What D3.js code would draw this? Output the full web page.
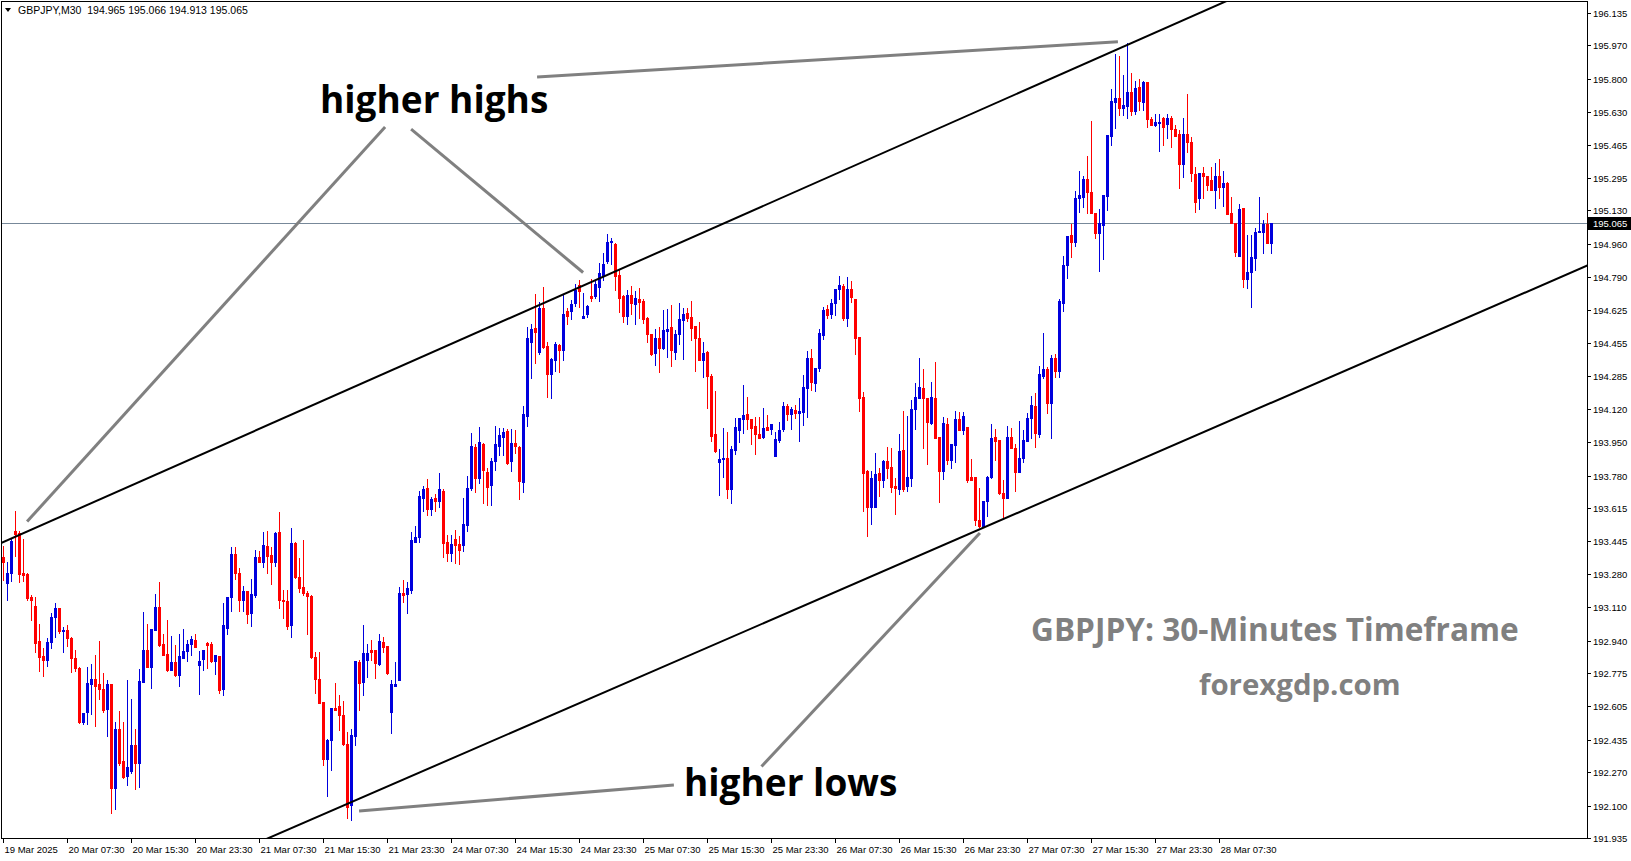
<!DOCTYPE html>
<html><head><meta charset="utf-8">
<script src="https://cdn.jsdelivr.net/npm/d3@7/dist/d3.min.js"></script>
<style>
html,body{margin:0;padding:0;background:#fff;overflow:hidden}
svg{display:block}
</style></head><body>
<svg id="chart" width="1631" height="861"></svg>
<script>
// ---------------- DATA ----------------
const symbolTitle = "GBPJPY,M30";
const lastOHLC = [194.965, 195.066, 194.913, 195.065];
const currentPrice = 195.065;

const opens = [
193.367,193.231,193.282,193.498,193.486,193.282,193.279,193.160,193.117,192.937,
192.860,192.843,192.932,193.058,193.104,192.990,192.993,192.952,192.852,192.801,
192.526,192.577,192.721,192.743,192.718,192.696,192.594,192.718,192.191,192.490,
192.325,192.250,192.276,192.407,192.316,192.730,192.891,192.806,192.993,193.109,
192.922,192.871,192.789,192.830,192.764,192.852,192.886,192.923,192.945,192.818,
192.845,192.928,192.922,192.835,192.862,192.692,193.005,193.160,193.381,193.285,
193.149,193.192,193.081,193.172,193.364,193.341,193.421,193.376,193.341,193.495,
193.149,193.141,193.019,193.438,193.262,193.211,193.183,193.168,192.854,192.746,
192.627,192.335,192.432,192.597,192.607,192.560,192.415,192.101,192.452,192.832,
192.730,192.840,192.891,192.891,192.823,192.934,192.913,192.577,192.709,192.738,
193.180,193.177,193.200,193.444,193.469,193.665,193.715,193.610,193.664,193.651,
193.700,193.442,193.386,193.459,193.430,193.425,193.529,193.715,193.927,193.770,
193.941,193.800,193.732,193.854,193.931,193.978,194.007,193.854,193.944,193.927,
193.749,194.085,194.459,194.530,194.411,194.635,194.441,194.297,194.368,194.445,
194.419,194.618,194.618,194.657,194.750,194.584,194.601,194.694,194.694,194.742,
194.798,194.873,194.968,194.959,194.801,194.694,194.594,194.699,194.655,194.679,
194.669,194.584,194.501,194.406,194.482,194.431,194.518,194.535,194.410,194.500,
194.572,194.609,194.586,194.541,194.482,194.368,194.408,194.287,193.990,193.850,
193.862,193.871,193.712,193.910,194.012,194.068,194.093,194.066,194.032,193.992,
193.978,194.027,194.017,193.881,193.961,194.015,194.136,194.093,194.114,194.100,
194.105,194.227,194.379,194.253,194.330,194.496,194.628,194.603,194.657,194.728,
194.747,194.584,194.730,194.679,194.484,194.179,193.805,193.619,193.622,193.792,
193.758,193.854,193.825,193.727,193.712,193.910,193.727,193.769,194.117,194.177,
194.228,194.177,194.050,194.177,193.975,193.805,194.042,193.859,193.936,194.068,
194.012,194.026,193.771,193.771,193.554,193.524,193.652,193.771,193.975,193.961,
193.690,193.668,193.975,193.922,193.800,193.871,193.956,194.072,194.134,193.992,
194.287,194.323,194.148,194.377,194.310,194.661,194.853,195.005,194.971,195.191,
195.200,195.290,195.226,195.119,195.017,195.056,195.204,195.509,195.683,195.704,
195.653,195.661,195.734,195.636,195.760,195.683,195.782,195.594,195.565,195.574,
195.601,195.568,195.602,195.543,195.518,195.368,195.518,195.477,195.315,195.191,
195.319,195.307,195.284,195.234,195.307,195.251,195.271,195.119,195.068,194.900,
195.141,194.779,194.815,194.889,195.019,195.022,195.061,194.965];

const highs = [
193.421,193.341,193.460,193.600,193.498,193.455,193.285,193.172,193.163,193.024,
192.900,192.951,193.078,193.132,193.107,193.010,193.018,192.959,192.891,192.806,
192.571,192.806,192.823,192.866,192.937,192.775,192.741,192.718,192.526,192.582,
192.526,192.738,192.645,192.492,192.794,193.087,193.027,192.998,193.177,193.240,
192.973,193.044,192.962,192.916,192.971,192.998,192.945,192.964,192.973,192.888,
192.891,192.934,192.932,192.866,192.862,193.132,193.163,193.418,193.418,193.308,
193.217,193.192,193.251,193.401,193.396,193.495,193.498,193.418,193.495,193.593,
193.197,193.197,193.512,193.444,193.362,193.452,193.192,193.170,192.883,192.883,
192.627,192.441,192.597,192.724,192.661,192.633,192.475,192.492,192.835,192.840,
193.018,192.925,192.942,192.891,192.976,192.956,192.913,192.741,192.832,193.214,
193.248,193.240,193.495,193.523,193.700,193.725,193.763,193.670,193.685,193.792,
193.712,193.478,193.478,193.503,193.470,193.666,193.780,193.995,193.939,194.029,
193.946,193.817,193.868,194.032,194.024,194.024,194.017,194.017,194.012,193.932,
194.134,194.538,194.552,194.703,194.665,194.742,194.462,194.377,194.459,194.448,
194.699,194.632,194.674,194.754,194.776,194.708,194.648,194.779,194.776,194.864,
194.912,195.010,194.991,194.963,194.830,194.699,194.725,194.745,194.720,194.736,
194.679,194.589,194.501,194.525,194.538,194.623,194.628,194.648,194.521,194.657,
194.635,194.635,194.669,194.543,194.563,194.462,194.414,194.297,194.211,193.915,
194.024,194.004,193.931,194.075,194.072,194.241,194.180,194.066,194.080,194.080,
194.123,194.088,194.042,194.000,194.054,194.156,194.145,194.131,194.139,194.177,
194.292,194.414,194.424,194.328,194.525,194.637,194.648,194.679,194.730,194.796,
194.754,194.790,194.771,194.679,194.484,194.207,193.808,193.805,193.893,193.817,
193.859,193.924,193.922,193.766,193.992,194.110,194.085,194.165,194.250,194.380,
194.323,194.177,194.258,194.360,193.975,194.080,194.072,193.941,194.110,194.105,
194.105,194.026,193.864,193.771,193.715,193.652,193.780,194.042,194.017,193.961,
193.758,194.032,194.020,193.939,194.058,194.012,194.100,194.185,194.202,194.338,
194.507,194.335,194.394,194.400,194.680,194.898,195.000,195.061,195.229,195.333,
195.307,195.405,195.587,195.119,195.138,195.208,195.514,195.746,195.926,195.915,
195.820,195.980,195.831,195.787,195.797,195.789,195.782,195.607,195.621,195.621,
195.604,195.620,195.612,195.563,195.538,195.600,195.725,195.505,195.353,195.319,
195.350,195.307,195.353,195.370,195.392,195.333,195.276,195.200,195.068,195.163,
195.141,195.005,195.005,195.039,195.200,195.081,195.118,195.066];

const lows = [
193.248,193.149,193.245,193.370,193.238,193.245,193.149,193.044,192.883,192.787,
192.760,192.813,192.900,192.959,192.979,192.883,192.913,192.780,192.786,192.522,
192.517,192.517,192.568,192.505,192.645,192.577,192.456,192.061,192.084,192.305,
192.240,192.203,192.265,192.186,192.194,192.730,192.806,192.699,192.993,192.913,
192.869,192.784,192.789,192.760,192.709,192.852,192.837,192.869,192.908,192.670,
192.792,192.798,192.832,192.772,192.673,192.665,192.971,193.092,193.251,193.092,
193.092,193.030,193.015,193.163,193.341,193.313,193.282,193.228,193.319,193.104,
193.053,192.998,192.956,193.257,193.189,193.172,192.976,192.852,192.675,192.622,
192.305,192.150,192.282,192.585,192.483,192.407,192.036,192.027,192.407,192.585,
192.661,192.755,192.840,192.752,192.818,192.883,192.772,192.469,192.709,192.738,
193.138,193.078,193.180,193.444,193.440,193.600,193.580,193.580,193.600,193.620,
193.364,193.347,193.347,193.336,193.330,193.394,193.500,193.707,193.698,193.740,
193.639,193.630,193.630,193.808,193.885,193.885,193.838,193.803,193.893,193.661,
193.698,194.034,194.278,194.352,194.400,194.430,194.182,194.177,194.314,194.306,
194.368,194.550,194.576,194.643,194.640,194.581,194.589,194.669,194.683,194.669,
194.776,194.861,194.856,194.725,194.611,194.560,194.553,194.601,194.552,194.584,
194.558,194.459,194.394,194.343,194.309,194.424,194.385,194.340,194.374,194.450,
194.374,194.567,194.470,194.312,194.368,194.283,194.126,193.958,193.902,193.681,
193.774,193.664,193.639,193.888,193.953,193.995,194.017,193.941,193.890,193.973,
193.973,194.012,193.992,193.881,193.953,194.008,194.063,194.016,194.075,193.958,
194.038,194.080,194.216,194.211,194.312,194.475,194.584,194.584,194.598,194.679,
194.572,194.543,194.665,194.399,194.110,193.600,193.474,193.532,193.620,193.678,
193.723,193.769,193.698,193.583,193.685,193.702,193.702,193.728,194.017,194.177,
193.919,193.839,194.042,193.970,193.647,193.763,193.837,193.817,193.851,194.012,
193.992,193.749,193.758,193.529,193.520,193.520,193.576,193.766,193.859,193.685,
193.563,193.668,193.919,193.700,193.800,193.851,193.956,193.970,193.927,193.978,
194.275,194.100,193.973,194.280,194.280,194.620,194.784,194.894,194.949,195.123,
195.149,195.115,195.119,194.988,194.823,194.883,195.132,195.463,195.551,195.616,
195.616,195.600,195.616,195.620,195.641,195.641,195.556,195.565,195.561,195.433,
195.463,195.497,195.455,195.508,195.246,195.300,195.425,195.281,195.123,195.138,
195.191,195.234,195.234,195.140,195.195,195.153,195.112,195.065,194.900,194.900,
194.741,194.736,194.640,194.827,195.019,194.915,194.963,194.913];

const closes = [
193.341,193.282,193.447,193.483,193.277,193.275,193.155,193.149,192.928,192.857,
192.843,192.932,193.061,193.104,192.990,192.995,192.952,192.852,192.801,192.526,
192.571,192.724,192.743,192.709,192.696,192.588,192.718,192.191,192.490,192.316,
192.245,192.296,192.407,192.316,192.733,192.891,192.806,192.998,193.112,192.918,
192.869,192.789,192.830,192.764,192.860,192.886,192.922,192.947,192.908,192.835,
192.891,192.920,192.835,192.866,192.687,193.018,193.163,193.381,193.285,193.149,
193.192,193.073,193.175,193.364,193.341,193.426,193.370,193.338,193.486,193.149,
193.139,193.015,193.438,193.262,193.206,193.180,193.168,192.857,192.743,192.622,
192.335,192.432,192.597,192.585,192.560,192.415,192.095,192.458,192.835,192.726,
192.879,192.879,192.883,192.826,192.937,192.908,192.777,192.718,192.718,193.180,
193.173,193.209,193.452,193.469,193.676,193.712,193.610,193.660,193.651,193.712,
193.437,193.386,193.430,193.429,193.400,193.531,193.715,193.932,193.766,193.951,
193.808,193.723,193.854,193.941,193.987,194.000,193.843,193.944,193.932,193.752,
194.094,194.482,194.526,194.513,194.635,194.436,194.297,194.372,194.450,194.419,
194.603,194.594,194.655,194.725,194.720,194.594,194.645,194.686,194.754,194.810,
194.856,194.971,194.974,194.798,194.686,194.594,194.699,194.657,194.686,194.666,
194.577,194.501,194.397,194.482,194.431,194.521,194.526,194.417,194.501,194.577,
194.603,194.584,194.533,194.479,194.368,194.406,194.287,193.983,193.907,193.864,
193.871,193.712,193.915,194.026,194.072,194.088,194.068,194.021,193.990,193.973,
194.021,194.012,194.042,193.966,194.012,194.136,194.093,194.119,194.100,194.111,
194.231,194.379,194.258,194.328,194.506,194.623,194.598,194.660,194.730,194.750,
194.584,194.730,194.691,194.479,194.177,193.792,193.620,193.766,193.788,193.758,
193.854,193.820,193.723,193.715,193.906,193.712,193.771,194.117,194.179,194.230,
194.177,194.055,194.182,193.973,193.805,194.050,193.859,193.941,194.068,194.012,
194.085,193.758,193.758,193.554,193.524,193.652,193.774,193.970,193.956,193.690,
193.668,193.975,193.919,193.800,193.871,193.961,194.072,194.139,193.998,194.297,
194.321,194.148,194.377,194.310,194.669,194.853,195.000,194.971,195.195,195.208,
195.290,195.226,195.119,195.017,195.068,195.208,195.514,195.688,195.704,195.653,
195.666,195.734,195.636,195.751,195.687,195.785,195.594,195.565,195.582,195.582,
195.556,195.602,195.543,195.508,195.368,195.521,195.477,195.319,195.174,195.319,
195.307,195.259,195.234,195.307,195.251,195.271,195.112,195.065,194.920,195.138,
194.779,194.815,194.891,195.022,195.026,195.061,194.966,195.065];

const priceTicks = [196.135,195.970,195.800,195.630,195.465,195.295,195.130,194.960,194.790,194.625,
  194.455,194.285,194.120,193.950,193.780,193.615,193.445,193.280,193.110,192.940,
  192.775,192.605,192.435,192.270,192.100,191.935];

const timeLabels = ["19 Mar 2025","20 Mar 07:30","20 Mar 15:30","20 Mar 23:30","21 Mar 07:30",
  "21 Mar 15:30","21 Mar 23:30","24 Mar 07:30","24 Mar 15:30","24 Mar 23:30","25 Mar 07:30",
  "25 Mar 15:30","25 Mar 23:30","26 Mar 07:30","26 Mar 15:30","26 Mar 23:30","27 Mar 07:30",
  "27 Mar 15:30","27 Mar 23:30","28 Mar 07:30"];
const timeLabelBars = [0,16,32,48,64,80,96,112,128,144,160,176,192,208,224,240,256,272,288,304];

// channel lines: [bar index, price]
const upperChannel = [[0,193.442],[300,196.144]];
const lowerChannel = [[100,192.233],[300,194.001]];
// grey pointer lines: [bar index, price]
const pointerLines = [
  [[133.4,195.809],[278.6,195.989]],
  [[95.4,195.555],[5.9,193.546]],
  [[101.9,195.544],[144.9,194.814]],
  [[88.9,192.073],[167.6,192.205]],
  [[189.5,192.299],[244.1,193.488]]
];
const annotations = [
  {text:"higher highs", x:320, y:113, size:37, color:"#000"},
  {text:"higher lows", x:684, y:796, size:37, color:"#000"},
  {text:"GBPJPY: 30-Minutes Timeframe", x:1031, y:641, size:31.6, color:"#808080"},
  {text:"forexgdp.com", x:1199, y:695, size:29.4, color:"#808080"}
];

// ---------------- DRAW ----------------
const W = 1631, H = 861;
const plot = {l:2, t:2, r:1587, b:838};
const svg = d3.select("#chart");
const x = d3.scaleLinear().domain([0,317]).range([3.5,1271.5]);
const y = d3.scaleLinear().domain([191.935,196.135]).range([838,13]);
const bull = "#0000dd", bear = "#ff0000";
const axisFont = "'Liberation Sans', Arial, sans-serif";

svg.append("rect").attr("width",W).attr("height",H).attr("fill","#fff");

const defs = svg.append("defs");
defs.append("clipPath").attr("id","plotclip").append("rect")
  .attr("x",plot.l).attr("y",plot.t).attr("width",plot.r-plot.l).attr("height",plot.b-plot.t);

// current price line
svg.append("line").attr("x1",plot.l).attr("x2",plot.r)
  .attr("y1",Math.round(y(currentPrice))+0.5).attr("y2",Math.round(y(currentPrice))+0.5)
  .attr("stroke","#778899").attr("stroke-width",1).attr("shape-rendering","crispEdges");

// candles
const data = opens.map((o,i)=>({i, o, h:highs[i], l:lows[i], c:closes[i]}));
const cg = svg.append("g").attr("clip-path","url(#plotclip)").attr("shape-rendering","crispEdges");
const candle = cg.selectAll("g.c").data(data).join("g").attr("class","c");
candle.append("rect")
  .attr("x",d=>x(d.i)-0.5).attr("width",1)
  .attr("y",d=>Math.round(y(d.h)))
  .attr("height",d=>Math.max(1,Math.round(y(d.l))-Math.round(y(d.h))+1))
  .attr("fill",d=>d.c>=d.o?bull:bear);
candle.append("rect")
  .attr("x",d=>x(d.i)-1.5).attr("width",3)
  .attr("y",d=>Math.round(y(Math.max(d.o,d.c))))
  .attr("height",d=>Math.max(1,Math.round(y(Math.min(d.o,d.c)))-Math.round(y(Math.max(d.o,d.c)))+1))
  .attr("fill",d=>d.c>=d.o?bull:bear);

// channel lines (extended across the plot)
function extend(seg, i0, i1){
  const [a,b]=seg; const s=(b[1]-a[1])/(b[0]-a[0]);
  return [[i0, a[1]+s*(i0-a[0])],[i1, a[1]+s*(i1-a[0])]];
}
const lg = svg.append("g").attr("clip-path","url(#plotclip)");
[upperChannel, lowerChannel].forEach(seg=>{
  const e = extend(seg,-2,400);
  lg.append("line").attr("x1",x(e[0][0])).attr("y1",y(e[0][1]))
    .attr("x2",x(e[1][0])).attr("y2",y(e[1][1]))
    .attr("stroke","#000").attr("stroke-width",2);
});
pointerLines.forEach(seg=>{
  lg.append("line").attr("x1",x(seg[0][0])).attr("y1",y(seg[0][1]))
    .attr("x2",x(seg[1][0])).attr("y2",y(seg[1][1]))
    .attr("stroke","#808080").attr("stroke-width",3);
});

// annotations
annotations.forEach(a=>{
  svg.append("text").attr("x",a.x).attr("y",a.y).text(a.text)
    .attr("font-family","'Open Sans', sans-serif").attr("font-weight",700)
    .attr("font-size",a.size).attr("fill",a.color);
});

// frame
svg.append("rect").attr("x",1.5).attr("y",1.5).attr("width",plot.r-1.5).attr("height",plot.b+0.5-1.5)
  .attr("fill","none").attr("stroke","#000").attr("stroke-width",1).attr("shape-rendering","crispEdges");

// right price axis
const ya = svg.append("g").attr("shape-rendering","crispEdges");
priceTicks.forEach(v=>{
  const yy = Math.round(y(v))+0.5;
  ya.append("line").attr("x1",plot.r+0.5).attr("x2",plot.r+4).attr("y1",yy).attr("y2",yy).attr("stroke","#000");
  ya.append("text").attr("x",plot.r+6).attr("y",yy+3.5).text(v.toFixed(3))
    .attr("font-family",axisFont).attr("font-size",9.5).attr("fill","#000");
});
// current price label
const cy = Math.round(y(currentPrice));
svg.append("rect").attr("x",plot.r+1).attr("y",cy-6).attr("width",W-plot.r-1).attr("height",13).attr("fill","#000");
svg.append("text").attr("x",plot.r+6).attr("y",cy+4).text(currentPrice.toFixed(3))
  .attr("font-family",axisFont).attr("font-size",9.5).attr("fill","#fff");

// bottom time axis
const xa = svg.append("g").attr("shape-rendering","crispEdges");
timeLabels.forEach((t,k)=>{
  const xx = x(timeLabelBars[k]);
  xa.append("line").attr("x1",xx).attr("x2",xx).attr("y1",plot.b+0.5).attr("y2",plot.b+5).attr("stroke","#000");
  xa.append("text").attr("x",xx+1).attr("y",853).text(t)
    .attr("font-family",axisFont).attr("font-size",9.5).attr("fill","#000");
});

// header
svg.append("path").attr("d","M5,8 L11,8 L8,12 Z").attr("fill","#000");
svg.append("text").attr("x",18).attr("y",13.5).attr("xml:space","preserve")
  .text(symbolTitle+"  "+lastOHLC.map(v=>v.toFixed(3)).join(" "))
  .attr("font-family",axisFont).attr("font-size",10.5).attr("fill","#000");
</script>
</body></html>
